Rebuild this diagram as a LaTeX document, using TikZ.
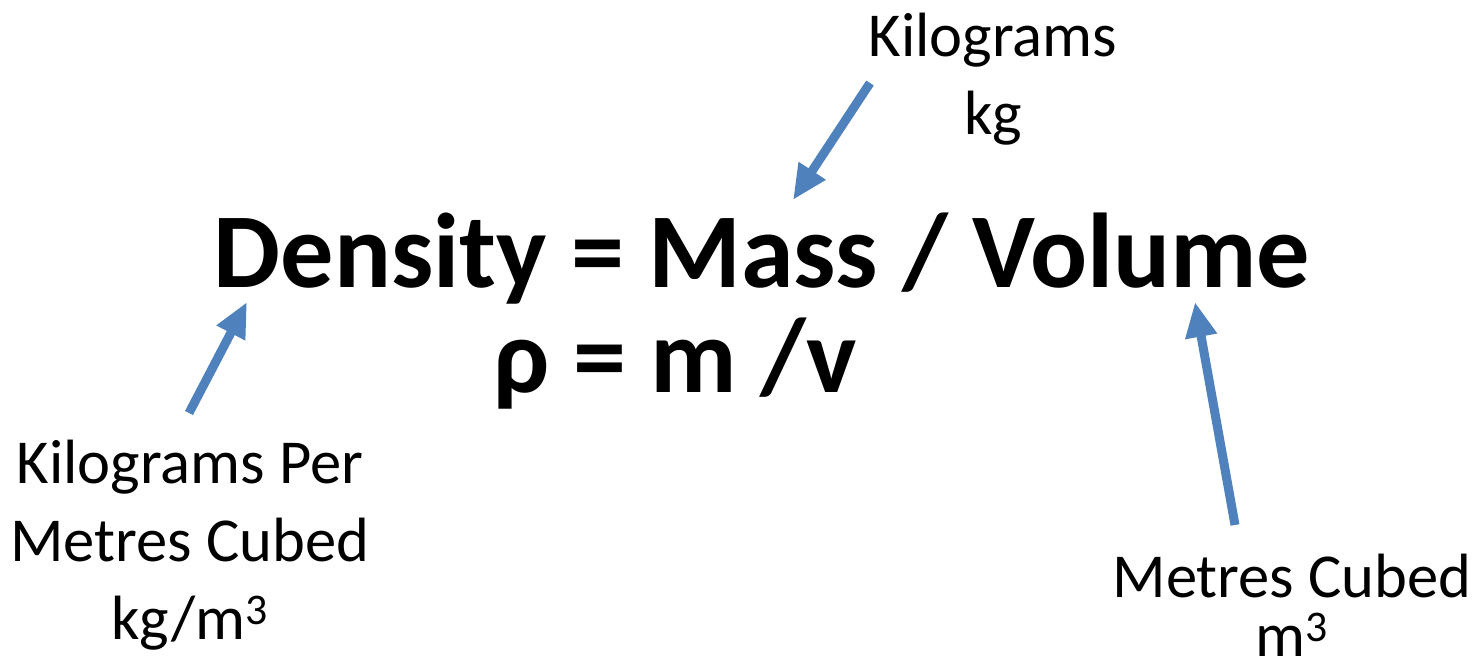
\documentclass[tikz,border=0pt]{standalone}
\usepackage{fontspec}
\setmainfont{Carlito}
\usepackage{tikz}
\usetikzlibrary{arrows.meta,positioning}
\definecolor{officeblue}{RGB}{79,129,189}

\begin{document}
\begin{tikzpicture}[x=0.02cm, y=-0.02cm,
    formula/.style={font=\fontsize{60.5}{72}\selectfont\bfseries, anchor=base, inner sep=0pt},
    unit/.style={font=\fontsize{35.6}{44.4}\selectfont, align=center, anchor=base, inner sep=0pt},
    pointer/.style={draw=officeblue, line width=0.18cm,
                    -{Triangle[width=0.6cm, length=0.7cm, fill=officeblue]}}
]
    \useasboundingbox (0,0) rectangle (1478,661);

    \node[formula] (wordeq) at (762,288) {Density = Mass / Volume};
    \node[formula] (symeq)  at (675,393) {ρ = m /v};

    % anchor=base sits on the last line
    \node[unit] (massunit) at (993,135) {Kilograms\\kg};
    \node[unit] (densunit) at (190,640) {Kilograms Per\\Metres Cubed\\kg/m\textsuperscript{3}};
    \node[unit, font=\fontsize{35.6}{34}\selectfont] (volunit) at (1292,657) {Metres Cubed\\m\textsuperscript{3}};

    \coordinate (masstail) at (870,83);
    \coordinate (masstip)  at (793,200);
    \coordinate (denstail) at (189,413);
    \coordinate (denstip)  at (247,302);
    \coordinate (voltail)  at (1235,525);
    \coordinate (voltip)   at (1195,302);

    \draw[pointer] (masstail) -- (masstip);
    \draw[pointer] (denstail) -- (denstip);
    \draw[pointer] (voltail) -- (voltip);
\end{tikzpicture}
\end{document}
